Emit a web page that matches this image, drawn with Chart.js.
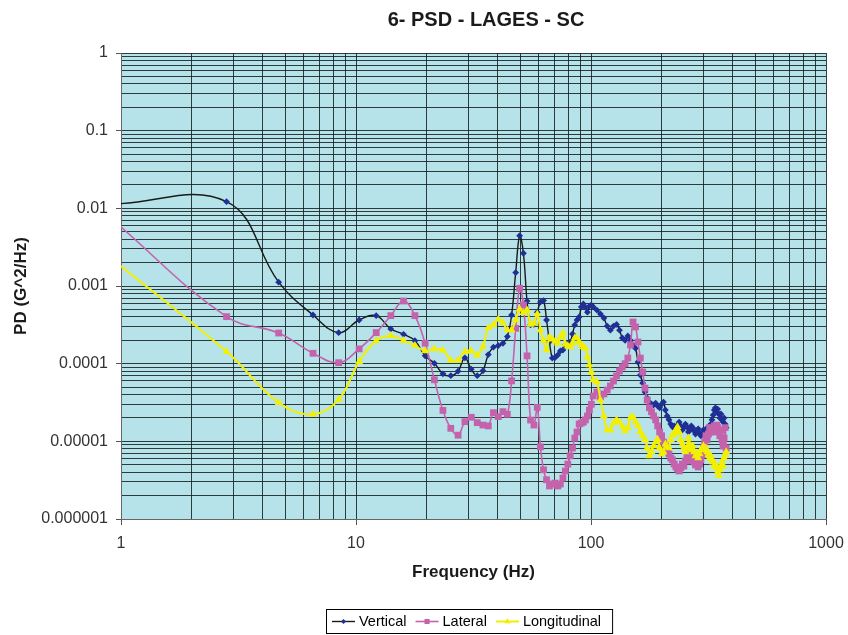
<!DOCTYPE html>
<html>
<head>
<meta charset="utf-8">
<title>6- PSD - LAGES - SC</title>
<script src="https://cdn.jsdelivr.net/npm/chart.js@4.4.1/dist/chart.umd.min.js"></script>
<style>
  html, body { margin: 0; padding: 0; background: #fff; }
  canvas { display: block; }
</style>
</head>
<body>
<canvas id="chart" width="848" height="635"></canvas>
<script>
const chartTitle = '6- PSD - LAGES - SC';
const xTitle = 'Frequency (Hz)';
const yTitle = 'PD (G^2/Hz)';

// frequencias (Hz)
const freq = [
  0.9375, 2.8125, 4.6875, 6.5625, 8.4375, 10.3125, 12.1875, 14.0625, 15.9375, 17.8125,
  19.6875, 21.5625, 23.4375, 25.3125, 27.1875, 29.0625, 30.9375, 32.8125, 34.6875, 36.5625,
  38.4375, 40.3125, 42.1875, 44.0625, 45.9375, 47.8125, 49.6875, 51.5625, 53.4375, 55.3125,
  57.1875, 59.0625, 60.9375, 62.8125, 64.6875, 66.5625, 68.4375, 70.3125, 72.1875, 74.0625,
  75.9375, 77.8125, 79.6875, 81.5625, 83.4375, 85.3125, 87.1875, 89.0625, 90.9375, 92.8125,
  94.6875, 96.5625, 98.4375, 100.3125,
  102.19, 105.94, 109.69, 113.44, 117.19, 120.94, 124.69, 128.44, 132.19, 135.94,
  139.69, 143.44, 147.19, 150.94, 154.69, 158.44, 162.19, 165.94, 169.69, 173.44,
  177.19, 180.94, 184.69, 188.44, 192.19, 195.94, 199.69, 203.44, 207.19, 210.94,
  214.69, 218.44, 222.19, 225.94, 229.69, 233.44, 237.19, 240.94, 244.69, 248.44,
  252.19, 255.94, 259.69, 263.44, 267.19, 270.94, 274.69, 278.44, 282.19, 285.94,
  289.69, 293.44, 297.19, 300.94, 304.69, 308.44, 312.19, 315.94, 319.69, 323.44,
  327.19, 330.94, 334.69, 338.44, 342.19, 345.94, 349.69, 353.44, 357.19, 360.94,
  364.69, 368.44, 372.19, 375.94
];

const vertical = [
  0.0114, 0.0122, 0.00112, 0.000423, 0.000251, 0.000365, 0.000415, 0.00028, 0.000239, 0.000198,
  0.000126, 0.000101, 7.4e-5, 7.0e-5, 8.0e-5, 0.000119, 8.5e-5, 7.0e-5, 8.1e-5, 0.000131,
  0.000163, 0.000171, 0.000183, 0.000223, 0.000423, 0.00149, 0.00445, 0.00264, 0.00064, 0.000315,
  0.00032, 0.00046, 0.00062, 0.00065, 0.000365, 0.00019, 0.000118, 0.00012, 0.000129, 0.000146,
  0.00015, 0.000174, 0.000184, 0.00019, 0.000241, 0.000315, 0.000365, 0.0004, 0.000537, 0.000587,
  0.00053, 0.00046, 0.00055, 0.00057,
  0.000537, 0.00049, 0.000437, 0.000387, 0.000305, 0.00027, 0.000305, 0.00032, 0.00027, 0.000214,
  0.0002, 0.000227, 0.0002, 0.000174, 0.000158, 0.000105, 7.15e-5, 5.64e-5, 4.32e-5, 3.61e-5,
  3.2e-5, 3.0e-5, 2.94e-5, 3.1e-5, 2.85e-5, 2.7e-5, 3.0e-5, 3.2e-5, 2.53e-5, 2.12e-5,
  1.89e-5, 1.67e-5, 1.54e-5, 1.58e-5, 1.5e-5, 1.62e-5, 1.77e-5, 1.58e-5, 1.4e-5, 1.5e-5,
  1.67e-5, 1.54e-5, 1.32e-5, 1.4e-5, 1.58e-5, 1.5e-5, 1.36e-5, 1.24e-5, 1.32e-5, 1.45e-5,
  1.28e-5, 1.18e-5, 1.24e-5, 1.4e-5, 1.28e-5, 1.36e-5, 1.5e-5, 1.32e-5, 1.45e-5, 1.67e-5,
  1.89e-5, 2.18e-5, 2.53e-5, 2.7e-5, 2.4e-5, 2.6e-5, 2.25e-5, 2.0e-5, 2.25e-5, 1.89e-5,
  1.77e-5, 2.0e-5, 1.67e-5, 1.5e-5
];

const lateral = [
  0.0068, 0.000403, 0.000248, 0.000136, 0.000103, 0.000155, 0.000251, 0.000415, 0.000641, 0.000415,
  0.000183, 6.2e-5, 2.5e-5, 1.47e-5, 1.2e-5, 1.79e-5, 2.04e-5, 1.74e-5, 1.62e-5, 1.58e-5,
  2.34e-5, 2.08e-5, 2.41e-5, 2.23e-5, 6.0e-5, 0.000285, 0.000934, 0.00057, 0.000126, 1.88e-5,
  1.62e-5, 2.74e-5, 8.5e-6, 4.3e-6, 3.2e-6, 2.66e-6, 2.82e-6, 2.9e-6, 2.66e-6, 2.82e-6,
  3.37e-6, 4.15e-6, 5.1e-6, 6.5e-6, 8.2e-6, 1.1e-5, 1.32e-5, 1.67e-5, 1.72e-5, 1.77e-5,
  1.89e-5, 2.12e-5, 2.53e-5, 3.0e-5,
  3.84e-5, 4.32e-5, 3.73e-5, 4.07e-5, 4.58e-5, 5.16e-5, 5.98e-5, 6.94e-5, 8.05e-5, 9.06e-5,
  0.0001, 0.000118, 0.000174, 0.000344, 0.000297, 0.00019, 0.000118, 7.82e-5, 4.86e-5, 3.4e-5,
  2.7e-5, 2.4e-5, 2.12e-5, 1.89e-5, 1.58e-5, 1.32e-5, 1.18e-5, 9.8e-6, 8.7e-6, 7.74e-6,
  6.88e-6, 6.1e-6, 5.77e-6, 5.1e-6, 4.68e-6, 4.4e-6, 4.15e-6, 4.55e-6, 5.1e-6, 4.8e-6,
  5.6e-6, 6.48e-6, 6.88e-6, 6.1e-6, 5.6e-6, 6.3e-6, 5.4e-6, 4.95e-6, 5.25e-6, 4.68e-6,
  5.1e-6, 5.77e-6, 6.7e-6, 8.2e-6, 9.8e-6, 1.18e-5, 1.05e-5, 1.24e-5, 1.5e-5, 1.32e-5,
  1.5e-5, 1.32e-5, 1.58e-5, 1.4e-5, 1.62e-5, 1.5e-5, 1.32e-5, 1.18e-5, 1.4e-5, 1.05e-5,
  8.7e-6, 1.1e-5, 1.5e-5, 8.2e-6
];

const longitudinal = [
  0.0021, 0.000143, 3.15e-5, 2.23e-5, 3.45e-5, 0.000106, 0.000198, 0.000229, 0.000198, 0.000171,
  0.000146, 0.000155, 0.000149, 0.000111, 0.000111, 0.000143, 0.000146, 0.000129, 0.000166, 0.00029,
  0.000315, 0.000373, 0.000337, 0.000271, 0.000271, 0.000365, 0.000501, 0.000453, 0.00049, 0.000321,
  0.00033, 0.000436, 0.000271, 0.0002, 0.00015, 0.00022, 0.000207, 0.000193, 0.000184, 0.00022,
  0.000248, 0.000178, 0.000169, 0.000164, 0.000184, 0.000214, 0.000214, 0.00019, 0.000174, 0.000164,
  0.000158, 0.000122, 9.6e-5, 7.8e-5,
  6.17e-5, 5.8e-5, 3.4e-5, 2.12e-5, 1.4e-5, 1.4e-5, 1.72e-5, 1.89e-5, 1.77e-5, 1.54e-5,
  1.36e-5, 1.5e-5, 2.0e-5, 2.06e-5, 1.77e-5, 1.58e-5, 1.32e-5, 1.18e-5, 1.05e-5, 8.2e-6,
  6.48e-6, 7.3e-6, 8.7e-6, 9.8e-6, 1.05e-5, 8.2e-6, 6.88e-6, 7.3e-6, 9.2e-6, 8.5e-6,
  8.2e-6, 1.05e-5, 1.21e-5, 1.24e-5, 1.4e-5, 1.54e-5, 1.32e-5, 1.05e-5, 9.2e-6, 8.2e-6,
  7.3e-6, 8.2e-6, 1.1e-5, 9.0e-6, 7.74e-6, 8.7e-6, 7.3e-6, 6.48e-6, 6.88e-6, 6.1e-6,
  6.88e-6, 7.74e-6, 8.2e-6, 8.7e-6, 7.74e-6, 8.2e-6, 7.3e-6, 6.7e-6, 6.1e-6, 6.48e-6,
  5.77e-6, 5.4e-6, 4.8e-6, 5.1e-6, 4.55e-6, 4.03e-6, 3.6e-6, 4.28e-6, 4.8e-6, 5.4e-6,
  4.8e-6, 6.1e-6, 6.7e-6, 7.3e-6
];

// rotulos dos eixos
const xTicks = [1, 10, 100, 1000];
const xTickLabels = ['1', '10', '100', '1000'];
const yTicks = [0.000001, 0.00001, 0.0001, 0.001, 0.01, 0.1, 1];
const yTickLabels = ['0.000001', '0.00001', '0.0001', '0.001', '0.01', '0.1', '1'];

const FONT = '"Liberation Sans", Arial, sans-serif';

function toPoints(values) {
  return freq.map((f, i) => ({ x: f, y: values[i] }));
}

function findTick(list, value) {
  return list.findIndex(t => Math.abs(Math.log10(t) - Math.log10(value)) < 1e-6);
}

// so inteiros 1..9 em cada decada (sem o 1.5 do Chart.js)
function keepIntegerTicks(scale) {
  scale.ticks = scale.ticks.filter(t => {
    const m = t.value / Math.pow(10, Math.floor(Math.log10(t.value) + 1e-9));
    return Math.abs(m - Math.round(m)) < 1e-6;
  });
}

const plotBackground = {
  id: 'plotBackground',
  beforeDraw(chart) {
    const { ctx, chartArea: a } = chart;
    ctx.save();
    ctx.fillStyle = '#b6e3e9';
    ctx.fillRect(a.left, a.top, a.right - a.left, a.bottom - a.top);
    ctx.restore();
  }
};

const titleAndLegend = {
  id: 'titleAndLegend',
  afterDraw(chart) {
    const ctx = chart.ctx;
    ctx.save();
    // titulo
    ctx.fillStyle = '#1a1a1a';
    ctx.font = 'bold 20px ' + FONT;
    ctx.textAlign = 'center';
    ctx.textBaseline = 'middle';
    ctx.fillText(chartTitle, 486, 20);

    // legenda com caixa
    ctx.font = '14.5px ' + FONT;
    ctx.textAlign = 'left';
    const y = 621.5;
    let x = 332;
    chart.data.datasets.forEach(d => {
      ctx.strokeStyle = d.borderColor;
      ctx.lineWidth = d.borderWidth;
      ctx.beginPath();
      ctx.moveTo(x, y);
      ctx.lineTo(x + 23, y);
      ctx.stroke();
      ctx.fillStyle = d.pointBackgroundColor;
      Chart.helpers.drawPoint(ctx, { pointStyle: d.pointStyle, radius: d.pointRadius * 0.75, rotation: 0, borderWidth: 0 }, x + 11.5, y);
      ctx.fillStyle = '#000';
      ctx.fillText(d.label, x + 27, y);
      x += 27 + ctx.measureText(d.label).width + 9;
    });
    ctx.strokeStyle = '#000';
    ctx.lineWidth = 1;
    ctx.strokeRect(326.5, 609.5, x - 326 + 2, 24);
    ctx.restore();
  }
};

const gridColor = 'rgba(20, 30, 30, 0.85)';

new Chart(document.getElementById('chart'), {
  type: 'line',
  data: {
    datasets: [
      {
        label: 'Vertical',
        data: toPoints(vertical),
        borderColor: '#1a1a1a',
        borderWidth: 1.4,
        pointStyle: 'rectRot',
        pointRadius: 3.4,
        pointBackgroundColor: '#1f2f95',
        pointBorderColor: '#1f2f95',
        pointBorderWidth: 0,
        tension: 0.4,
        order: 3
      },
      {
        label: 'Lateral',
        data: toPoints(lateral),
        borderColor: '#c463ab',
        borderWidth: 1.6,
        pointStyle: 'rect',
        pointRadius: 4.8,
        pointBackgroundColor: '#c463ab',
        pointBorderColor: '#c463ab',
        pointBorderWidth: 0,
        tension: 0.4,
        order: 2
      },
      {
        label: 'Longitudinal',
        data: toPoints(longitudinal),
        borderColor: '#f2ef00',
        borderWidth: 2,
        pointStyle: 'triangle',
        pointRadius: 4.6,
        pointBackgroundColor: '#f2ef00',
        pointBorderColor: '#f2ef00',
        pointBorderWidth: 0,
        tension: 0.4,
        order: 1
      }
    ]
  },
  options: {
    responsive: false,
    animation: false,
    layout: { padding: { top: 53, right: 22, bottom: 0, left: 0 } },
    plugins: {
      legend: { display: false },
      title: { display: false },
      tooltip: { enabled: false }
    },
    scales: {
      x: {
        type: 'logarithmic',
        min: 1,
        max: 1000,
        afterBuildTicks: keepIntegerTicks,
        afterFit: scale => {
          scale.height = 116;
          scale.paddingLeft = 0;
          scale.paddingRight = 0;
        },
        grid: {
          color: gridColor,
          lineWidth: 1,
          tickLength: 6,
          tickColor: ctx => findTick(xTicks, ctx.tick.value) >= 0 ? '#555' : 'rgba(0,0,0,0)'
        },
        border: { display: true, color: '#666' },
        ticks: {
          autoSkip: false,
          maxRotation: 0,
          padding: 9,
          color: '#333',
          font: { family: FONT, size: 16 },
          callback: value => {
            const i = findTick(xTicks, value);
            return i >= 0 ? xTickLabels[i] : '';
          }
        },
        title: {
          display: true,
          text: xTitle,
          color: '#1a1a1a',
          font: { family: FONT, size: 17, weight: 'bold' },
          padding: { top: 0, bottom: 52 }
        }
      },
      y: {
        type: 'logarithmic',
        min: 0.000001,
        max: 1,
        afterBuildTicks: keepIntegerTicks,
        afterFit: scale => {
          scale.width = 121;
          scale.paddingTop = 0;
          scale.paddingBottom = 0;
        },
        grid: {
          color: gridColor,
          lineWidth: 1,
          tickLength: 5,
          tickColor: ctx => findTick(yTicks, ctx.tick.value) >= 0 ? '#555' : 'rgba(0,0,0,0)'
        },
        border: { display: true, color: '#666' },
        ticks: {
          autoSkip: false,
          padding: 8,
          color: '#333',
          font: { family: FONT, size: 16 },
          callback: value => {
            const i = findTick(yTicks, value);
            return i >= 0 ? yTickLabels[i] : '';
          }
        },
        title: {
          display: true,
          text: yTitle,
          color: '#1a1a1a',
          font: { family: FONT, size: 17, weight: 'bold' },
          padding: { top: 11, bottom: 0 }
        }
      }
    }
  },
  plugins: [plotBackground, titleAndLegend]
});
</script>
</body>
</html>
